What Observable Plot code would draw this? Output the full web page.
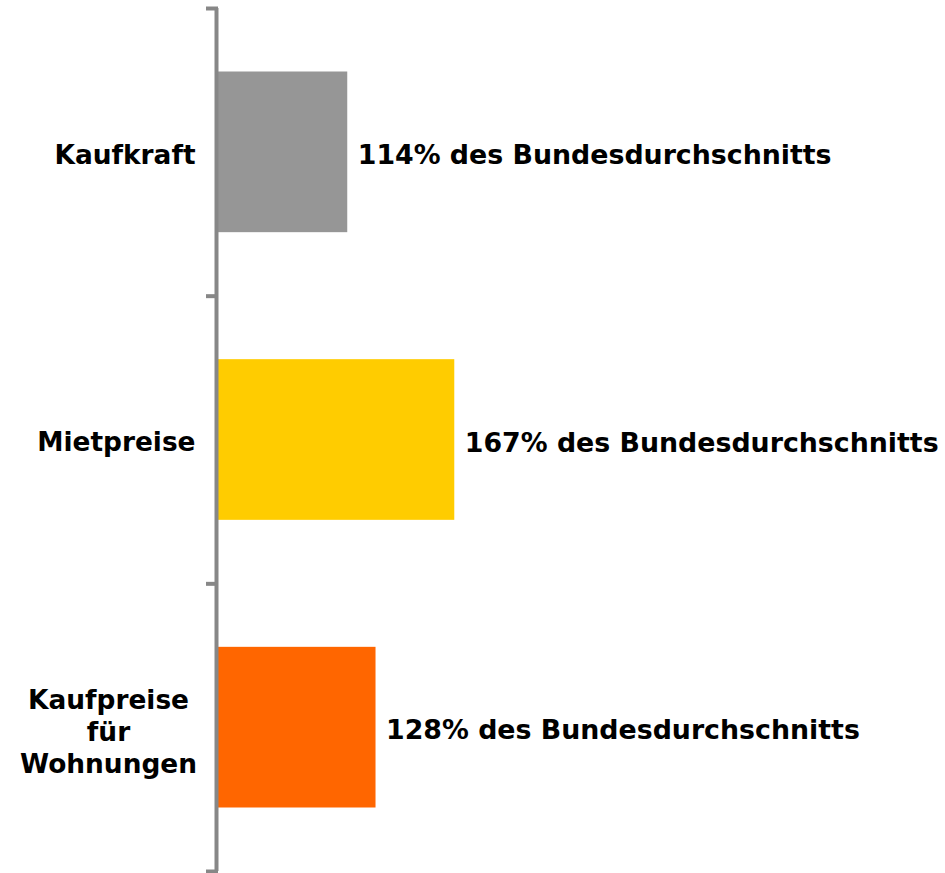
<!DOCTYPE html>
<html>
<head>
<meta charset="utf-8">
<script src="https://cdn.jsdelivr.net/npm/d3@7"></script>
<script src="https://cdn.jsdelivr.net/npm/@observablehq/plot@0.6"></script>
<style>
  html, body { margin: 0; padding: 0; background: #fff; }
  #chart svg { display: block; }
</style>
</head>
<body>
<div id="chart"></div>
<script>
// Data
const categories = ["Kaufkraft", "Mietpreise", "Kaufpreise\nfür\nWohnungen"];
const values = [114, 167, 128];
const colors = ["#969696", "#FFCC00", "#FF6600"];
const labelSuffix = "% des Bundesdurchschnitts";
const xDomain = [50, 410];

const data = categories.map((c, i) => ({
  category: c,
  value: values[i],
  color: colors[i],
  y1: i,
  y2: i + 1,
  yc: i + 0.5,
  multi: c.includes("\n")
}));
const boundaries = d3.range(categories.length + 1);

const font = "DejaVu Sans, Verdana, sans-serif";

const chart = Plot.plot({
  width: 945,
  height: 873,
  marginLeft: 218,
  marginRight: 0,
  marginTop: 8,
  marginBottom: 2,
  style: { fontFamily: font, background: "#fff" },
  x: { domain: xDomain, axis: null, label: null },
  y: { domain: [0, categories.length], reverse: true, axis: null, label: null },
  marks: [
    Plot.rect(data, {
      x1: xDomain[0], x2: "value", y1: "y1", y2: "y2",
      fill: "color", insetTop: 63.5, insetBottom: 63.5
    }),
    Plot.axisY({
      ticks: boundaries, tickSize: 12, tickFormat: () => "", label: null,
      stroke: "#878787", strokeWidth: 4
    }),
    Plot.ruleX([xDomain[0]], { stroke: "#878787", strokeWidth: 4, dx: -2 }),
    Plot.text(data, {
      x: "value", y: "yc",
      text: d => d.value + labelSuffix,
      textAnchor: "start", dx: 10, dy: 3,
      fontSize: 26.8, fontWeight: "bold", fill: "#000"
    }),
    Plot.text(data.filter(d => !d.multi), {
      x: xDomain[0], y: "yc", text: "category",
      textAnchor: "end", dx: -23, dy: 3,
      fontSize: 26.4, fontWeight: "bold", fill: "#000"
    }),
    Plot.text(data.filter(d => d.multi), {
      x: xDomain[0], y: "yc", text: "category",
      textAnchor: "middle", dx: -110, dy: 3, lineHeight: 1.22,
      fontSize: 26.4, fontWeight: "bold", fill: "#000"
    })
  ]
});
document.getElementById("chart").appendChild(chart);
</script>
</body>
</html>
